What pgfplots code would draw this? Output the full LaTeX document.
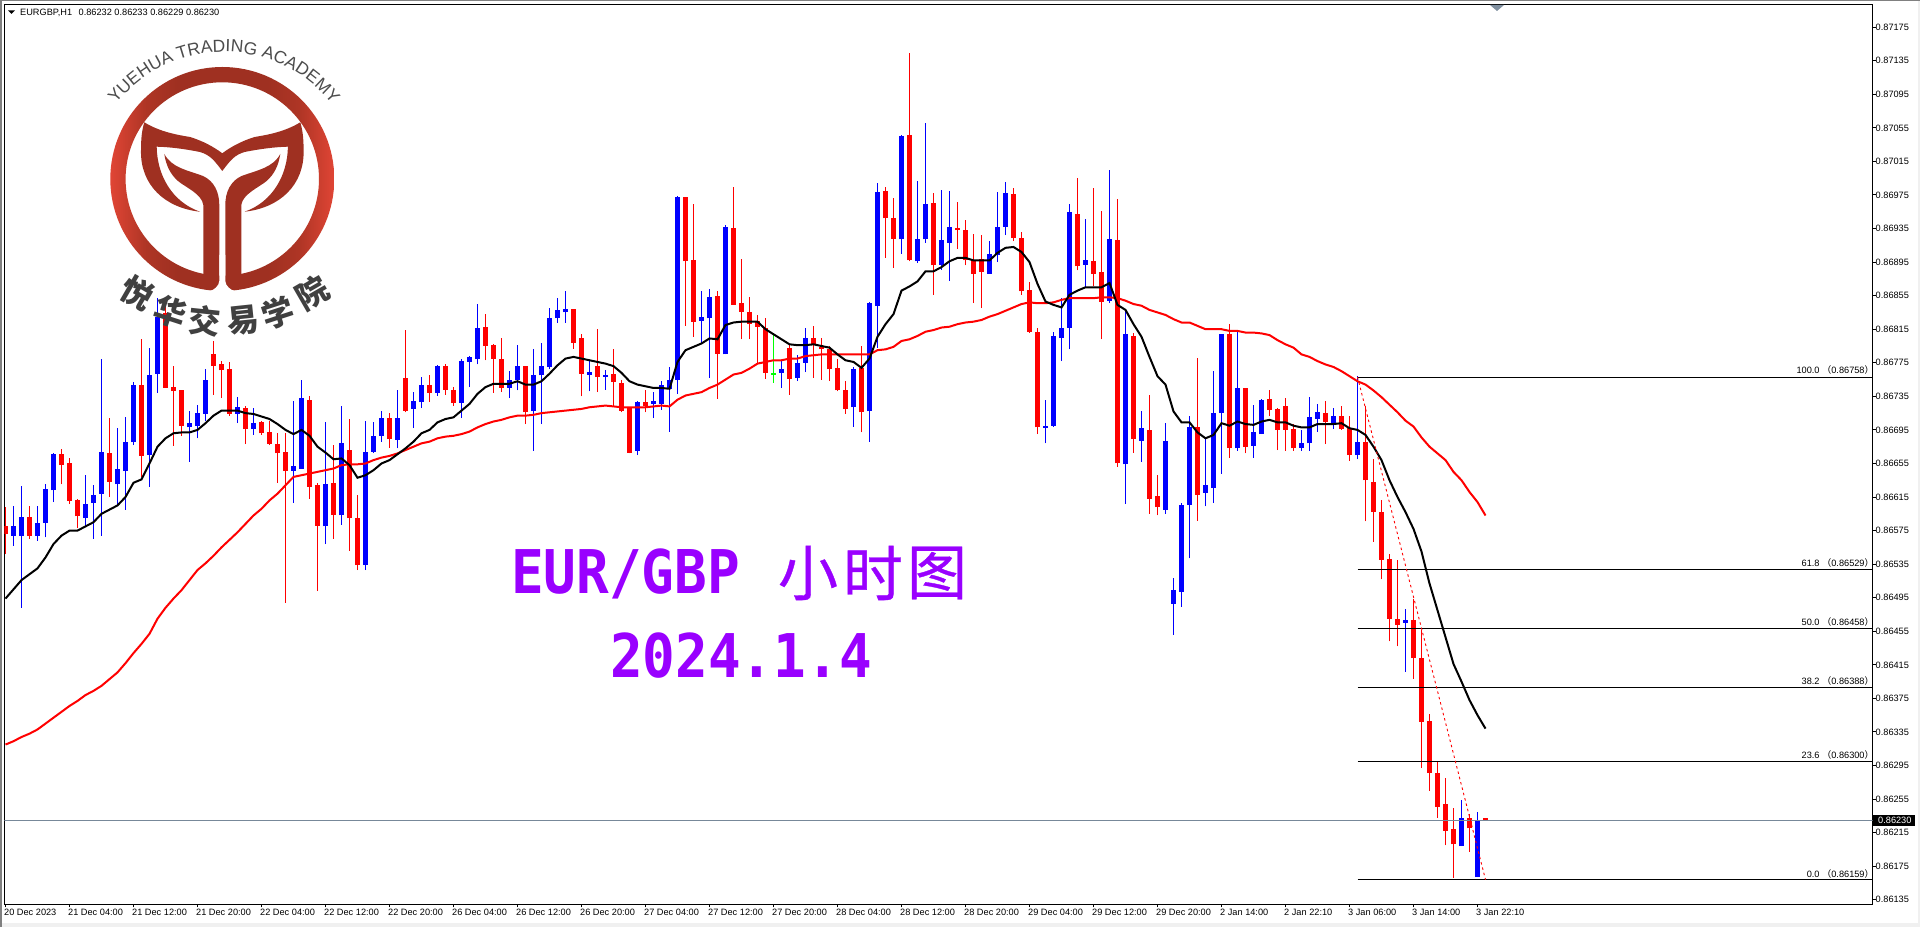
\documentclass[border=0pt]{standalone}
\usepackage{pgfplots}
\usepackage{pgfplotstable}
\pgfplotsset{compat=1.18}
\usepackage{fontspec}
\setmainfont{Liberation Sans}
\newfontfamily\cjk{Noto Sans CJK SC}
\newfontfamily\cjkt[FakeBold=0.6]{Noto Sans CJK SC}
\newfontfamily\titlefont{DejaVu Sans Mono}
\usetikzlibrary{decorations.text}
\definecolor{logoD}{HTML}{9F3021}
\definecolor{logoE}{HTML}{E04535}
\definecolor{logoM}{HTML}{AE3525}
\definecolor{purp}{HTML}{9900FF}
\pgfdeclarehorizontalshading{logoshade}{100bp}{color(0bp)=(logoE); color(25bp)=(logoE); color(33bp)=(logoM); color(40bp)=(logoD); color(60bp)=(logoD); color(67bp)=(logoM); color(75bp)=(logoE); color(100bp)=(logoE)}

\pgfplotstableread{
i h t b l
1 0.86604 0.86581 0.86569 0.86557
2 0.86628 0.86591 0.86569 0.86483
4 0.86604 0.86584 0.86569 0.86563
5 0.86630 0.86625 0.86584 0.86567
6 0.86668 0.86666 0.86623 0.86609
10 0.86641 0.86607 0.86590 0.86581
11 0.86629 0.86618 0.86608 0.86565
12 0.86779 0.86669 0.86619 0.86569
14 0.86697 0.86648 0.86630 0.86607
15 0.86710 0.86680 0.86646 0.86600
16 0.86752 0.86748 0.86680 0.86677
18 0.86793 0.86761 0.86665 0.86627
19 0.86852 0.86830 0.86762 0.86739
23 0.86717 0.86703 0.86698 0.86657
24 0.86725 0.86715 0.86700 0.86685
25 0.86768 0.86755 0.86714 0.86706
29 0.86734 0.86722 0.86714 0.86703
31 0.86721 0.86703 0.86696 0.86689
36 0.86730 0.86652 0.86646 0.86608
37 0.86755 0.86733 0.86649 0.86649
40 0.86705 0.86631 0.86580 0.86559
42 0.86724 0.86679 0.86593 0.86582
45 0.86706 0.86669 0.86534 0.86528
46 0.86704 0.86688 0.86669 0.86668
47 0.86718 0.86709 0.86688 0.86681
49 0.86743 0.86709 0.86683 0.86673
51 0.86740 0.86730 0.86720 0.86697
52 0.86758 0.86749 0.86728 0.86721
54 0.86772 0.86771 0.86739 0.86736
57 0.86779 0.86777 0.86727 0.86709
58 0.86783 0.86782 0.86776 0.86746
59 0.86845 0.86817 0.86779 0.86773
63 0.86765 0.86754 0.86745 0.86733
64 0.86796 0.86771 0.86754 0.86742
66 0.86791 0.86760 0.86717 0.86670
67 0.86798 0.86771 0.86760 0.86702
68 0.86840 0.86828 0.86770 0.86767
69 0.86852 0.86838 0.86828 0.86823
70 0.86860 0.86839 0.86835 0.86823
73 0.86777 0.86764 0.86761 0.86741
75 0.86766 0.86761 0.86758 0.86743
79 0.86729 0.86728 0.86670 0.86665
81 0.86740 0.86729 0.86726 0.86709
82 0.86753 0.86748 0.86726 0.86719
83 0.86770 0.86755 0.86744 0.86693
84 0.86974 0.86972 0.86755 0.86738
87 0.86860 0.86830 0.86825 0.86797
88 0.86863 0.86853 0.86828 0.86757
90 0.86939 0.86937 0.86785 0.86785
97 0.86778 0.86768 0.86763 0.86745
99 0.86784 0.86775 0.86757 0.86753
100 0.86816 0.86805 0.86775 0.86764
106 0.86770 0.86767 0.86722 0.86699
108 0.86848 0.86846 0.86717 0.86681
109 0.86989 0.86979 0.86843 0.86793
112 0.87047 0.87045 0.86922 0.86905
114 0.86992 0.86922 0.86896 0.86894
115 0.87061 0.86964 0.86922 0.86918
117 0.86981 0.86921 0.86892 0.86886
118 0.86980 0.86937 0.86918 0.86873
123 0.86920 0.86905 0.86881 0.86881
124 0.86978 0.86937 0.86903 0.86895
125 0.86991 0.86977 0.86937 0.86927
130 0.86731 0.86700 0.86697 0.86679
131 0.86812 0.86807 0.86700 0.86699
132 0.86852 0.86817 0.86805 0.86777
133 0.86964 0.86955 0.86817 0.86791
135 0.86946 0.86897 0.86892 0.86865
138 0.87005 0.86922 0.86849 0.86846
140 0.86837 0.86809 0.86654 0.86607
142 0.86717 0.86697 0.86682 0.86657
145 0.86703 0.86682 0.86600 0.86595
146 0.86518 0.86504 0.86488 0.86451
147 0.86608 0.86606 0.86502 0.86484
148 0.86711 0.86699 0.86606 0.86542
150 0.86686 0.86629 0.86620 0.86604
151 0.86765 0.86715 0.86626 0.86608
152 0.86809 0.86809 0.86715 0.86643
154 0.86813 0.86745 0.86673 0.86670
156 0.86725 0.86693 0.86676 0.86662
157 0.86732 0.86731 0.86690 0.86690
162 0.86695 0.86679 0.86674 0.86670
163 0.86734 0.86710 0.86679 0.86670
164 0.86726 0.86716 0.86708 0.86693
166 0.86721 0.86711 0.86703 0.86696
169 0.86759 0.86680 0.86665 0.86660
175 0.86481 0.86468 0.86465 0.86407
182 0.86254 0.86233 0.86199 0.86199
184 0.86240 0.86230 0.86162 0.86162
}\dataBlue

\pgfplotstableread{
i h t b l
0 0.86603 0.86580 0.86571 0.86547
3 0.86604 0.86591 0.86569 0.86565
7 0.86672 0.86666 0.86653 0.86630
8 0.86662 0.86655 0.86610 0.86607
9 0.86613 0.86612 0.86592 0.86578
13 0.86709 0.86668 0.86633 0.86615
17 0.86803 0.86749 0.86664 0.86639
20 0.86849 0.86834 0.86745 0.86745
21 0.86771 0.86746 0.86741 0.86676
22 0.86743 0.86743 0.86700 0.86688
26 0.86801 0.86785 0.86771 0.86737
27 0.86777 0.86774 0.86766 0.86733
28 0.86776 0.86768 0.86714 0.86712
30 0.86724 0.86721 0.86696 0.86678
32 0.86706 0.86704 0.86691 0.86689
33 0.86706 0.86693 0.86678 0.86677
34 0.86691 0.86678 0.86667 0.86632
35 0.86691 0.86669 0.86646 0.86489
38 0.86735 0.86731 0.86627 0.86613
39 0.86632 0.86629 0.86581 0.86503
41 0.86677 0.86632 0.86594 0.86565
43 0.86708 0.86671 0.86590 0.86551
44 0.86618 0.86590 0.86534 0.86528
48 0.86715 0.86709 0.86684 0.86674
50 0.86814 0.86757 0.86718 0.86716
53 0.86761 0.86748 0.86739 0.86728
55 0.86773 0.86771 0.86743 0.86737
56 0.86746 0.86742 0.86727 0.86724
60 0.86833 0.86818 0.86795 0.86778
61 0.86797 0.86796 0.86780 0.86739
62 0.86804 0.86779 0.86745 0.86740
65 0.86771 0.86771 0.86716 0.86702
71 0.86839 0.86839 0.86799 0.86792
72 0.86809 0.86805 0.86762 0.86735
74 0.86815 0.86771 0.86758 0.86740
76 0.86791 0.86762 0.86752 0.86723
77 0.86754 0.86751 0.86718 0.86716
78 0.86722 0.86721 0.86668 0.86667
80 0.86743 0.86728 0.86724 0.86716
85 0.86973 0.86973 0.86896 0.86819
86 0.86964 0.86898 0.86824 0.86806
89 0.86860 0.86854 0.86786 0.86732
91 0.86985 0.86936 0.86844 0.86844
92 0.86899 0.86846 0.86836 0.86803
93 0.86853 0.86835 0.86821 0.86803
94 0.86832 0.86825 0.86818 0.86774
95 0.86828 0.86817 0.86763 0.86756
98 0.86797 0.86793 0.86756 0.86737
101 0.86819 0.86804 0.86797 0.86757
102 0.86805 0.86794 0.86791 0.86755
103 0.86795 0.86791 0.86767 0.86753
104 0.86779 0.86769 0.86742 0.86741
105 0.86753 0.86742 0.86720 0.86714
107 0.86795 0.86769 0.86716 0.86692
110 0.86984 0.86980 0.86947 0.86900
111 0.86971 0.86947 0.86923 0.86888
113 0.87144 0.87046 0.86897 0.86896
116 0.86977 0.86965 0.86891 0.86856
119 0.86967 0.86936 0.86933 0.86911
120 0.86945 0.86933 0.86897 0.86891
121 0.86928 0.86897 0.86881 0.86846
122 0.86927 0.86899 0.86883 0.86840
126 0.86983 0.86976 0.86924 0.86920
127 0.86931 0.86924 0.86860 0.86856
128 0.86871 0.86862 0.86812 0.86811
129 0.86817 0.86812 0.86698 0.86690
134 0.86995 0.86952 0.86890 0.86885
136 0.86983 0.86896 0.86881 0.86866
137 0.86956 0.86883 0.86848 0.86803
139 0.86970 0.86921 0.86655 0.86651
141 0.86811 0.86807 0.86684 0.86668
143 0.86737 0.86695 0.86613 0.86595
144 0.86641 0.86616 0.86603 0.86593
149 0.86781 0.86698 0.86618 0.86587
153 0.86821 0.86809 0.86674 0.86662
155 0.86745 0.86745 0.86675 0.86667
158 0.86743 0.86732 0.86719 0.86711
159 0.86721 0.86720 0.86695 0.86671
160 0.86733 0.86723 0.86695 0.86670
161 0.86702 0.86696 0.86673 0.86670
165 0.86729 0.86715 0.86704 0.86678
167 0.86723 0.86712 0.86696 0.86695
168 0.86712 0.86697 0.86665 0.86658
170 0.86724 0.86681 0.86635 0.86586
171 0.86660 0.86633 0.86597 0.86562
172 0.86611 0.86597 0.86540 0.86517
173 0.86547 0.86541 0.86470 0.86443
174 0.86540 0.86470 0.86463 0.86437
176 0.86494 0.86469 0.86423 0.86398
177 0.86456 0.86423 0.86347 0.86292
178 0.86356 0.86348 0.86286 0.86265
179 0.86299 0.86286 0.86246 0.86233
180 0.86280 0.86249 0.86217 0.86200
181 0.86245 0.86219 0.86201 0.86161
183 0.86237 0.86232 0.86220 0.86192
185 0.86233 0.86232 0.86229 0.86229
}\dataRed

\pgfplotstableread{
i h t b l
96 0.86809 0.86763 0.86761 0.86751
}\dataGreen

\pgfplotstableread{
i k r
0 0.86494 0.86320
1 0.86505 0.86324
2 0.86516 0.86329
3 0.86523 0.86333
4 0.86530 0.86338
5 0.86543 0.86345
6 0.86559 0.86352
7 0.86569 0.86359
8 0.86575 0.86366
9 0.86575 0.86372
10 0.86580 0.86379
11 0.86585 0.86384
12 0.86595 0.86390
13 0.86600 0.86398
14 0.86605 0.86406
15 0.86615 0.86417
16 0.86632 0.86429
17 0.86636 0.86440
18 0.86655 0.86452
19 0.86675 0.86470
20 0.86685 0.86483
21 0.86691 0.86494
22 0.86692 0.86504
23 0.86692 0.86516
24 0.86695 0.86528
25 0.86703 0.86536
26 0.86712 0.86545
27 0.86718 0.86555
28 0.86718 0.86564
29 0.86718 0.86573
30 0.86715 0.86583
31 0.86714 0.86593
32 0.86711 0.86601
33 0.86708 0.86611
34 0.86702 0.86619
35 0.86695 0.86629
36 0.86690 0.86639
37 0.86695 0.86641
38 0.86688 0.86643
39 0.86675 0.86645
40 0.86668 0.86647
41 0.86660 0.86649
42 0.86661 0.86653
43 0.86653 0.86654
44 0.86638 0.86654
45 0.86641 0.86655
46 0.86647 0.86659
47 0.86655 0.86662
48 0.86659 0.86664
49 0.86666 0.86667
50 0.86673 0.86671
51 0.86681 0.86675
52 0.86691 0.86679
53 0.86695 0.86681
54 0.86704 0.86685
55 0.86708 0.86687
56 0.86710 0.86688
57 0.86718 0.86690
58 0.86726 0.86693
59 0.86738 0.86698
60 0.86746 0.86702
61 0.86750 0.86705
62 0.86750 0.86707
63 0.86750 0.86710
64 0.86753 0.86712
65 0.86749 0.86712
66 0.86749 0.86713
67 0.86753 0.86715
68 0.86762 0.86716
69 0.86772 0.86717
70 0.86780 0.86718
71 0.86782 0.86719
72 0.86780 0.86720
73 0.86778 0.86722
74 0.86776 0.86723
75 0.86774 0.86724
76 0.86771 0.86723
77 0.86763 0.86722
78 0.86753 0.86722
79 0.86749 0.86722
80 0.86747 0.86722
81 0.86745 0.86723
82 0.86745 0.86724
83 0.86744 0.86723
84 0.86776 0.86731
85 0.86790 0.86736
86 0.86794 0.86738
87 0.86798 0.86740
88 0.86804 0.86745
89 0.86803 0.86749
90 0.86820 0.86755
91 0.86823 0.86761
92 0.86824 0.86763
93 0.86824 0.86768
94 0.86824 0.86774
95 0.86815 0.86776
96 0.86809 0.86778
97 0.86803 0.86778
98 0.86797 0.86780
99 0.86796 0.86780
100 0.86796 0.86783
101 0.86797 0.86784
102 0.86795 0.86785
103 0.86793 0.86785
104 0.86785 0.86785
105 0.86778 0.86785
106 0.86776 0.86785
107 0.86769 0.86785
108 0.86780 0.86785
109 0.86806 0.86790
110 0.86821 0.86791
111 0.86833 0.86794
112 0.86861 0.86801
113 0.86866 0.86803
114 0.86872 0.86807
115 0.86884 0.86812
116 0.86884 0.86814
117 0.86889 0.86817
118 0.86896 0.86818
119 0.86900 0.86821
120 0.86900 0.86823
121 0.86897 0.86824
122 0.86897 0.86826
123 0.86897 0.86830
124 0.86906 0.86833
125 0.86912 0.86837
126 0.86913 0.86841
127 0.86907 0.86845
128 0.86895 0.86847
129 0.86869 0.86846
130 0.86848 0.86846
131 0.86844 0.86847
132 0.86841 0.86850
133 0.86856 0.86852
134 0.86861 0.86852
135 0.86865 0.86852
136 0.86865 0.86852
137 0.86865 0.86853
138 0.86870 0.86853
139 0.86844 0.86852
140 0.86838 0.86849
141 0.86821 0.86845
142 0.86806 0.86843
143 0.86782 0.86838
144 0.86759 0.86835
145 0.86749 0.86832
146 0.86717 0.86827
147 0.86704 0.86823
148 0.86704 0.86823
149 0.86692 0.86819
150 0.86685 0.86815
151 0.86689 0.86815
152 0.86703 0.86815
153 0.86700 0.86813
154 0.86705 0.86813
155 0.86702 0.86811
156 0.86701 0.86811
157 0.86705 0.86810
158 0.86707 0.86808
159 0.86704 0.86802
160 0.86704 0.86797
161 0.86700 0.86793
162 0.86698 0.86785
163 0.86698 0.86782
164 0.86702 0.86777
165 0.86702 0.86773
166 0.86702 0.86770
167 0.86703 0.86765
168 0.86697 0.86759
169 0.86695 0.86753
170 0.86689 0.86749
171 0.86675 0.86742
172 0.86659 0.86734
173 0.86635 0.86725
174 0.86615 0.86716
175 0.86597 0.86706
176 0.86577 0.86699
177 0.86550 0.86686
178 0.86512 0.86675
179 0.86480 0.86667
180 0.86448 0.86659
181 0.86416 0.86645
182 0.86395 0.86635
183 0.86373 0.86621
184 0.86355 0.86609
185 0.86339 0.86593
}\dataMA

\begin{document}
\begin{tikzpicture}[x=1pt,y=1pt]
% page background and window frame
\fill[white] (0,0) rectangle (1920,927);
\fill[black!6] (0,0) rectangle (1920,4);
\fill[black!6] (1918,0) rectangle (1920,927);
\fill[black!50] (0,925.5) rectangle (1920,927);
\fill[black!50] (0,0) rectangle (1.5,927);

\begin{axis}[
  at={(4.5pt,22.5pt)}, anchor=south west, scale only axis,
  width=1868pt, height=900pt,
  xmin=-0.125, xmax=233.375, ymin=0.861294, ymax=0.87202,
  axis line style={black,line width=1pt},
  tick align=outside, major tick length=3pt, tick style={black,line width=1pt},
  ytick pos=right, xtick pos=bottom,
  /pgf/number format/assume math mode=true,
  /pgf/number format/fixed,/pgf/number format/fixed zerofill,/pgf/number format/precision=5,
  xtick={0,8,...,184},
  xticklabels={20 Dec 2023,21 Dec 04:00,21 Dec 12:00,21 Dec 20:00,22 Dec 04:00,22 Dec 12:00,22 Dec 20:00,26 Dec 04:00,26 Dec 12:00,26 Dec 20:00,27 Dec 04:00,27 Dec 12:00,27 Dec 20:00,28 Dec 04:00,28 Dec 12:00,28 Dec 20:00,29 Dec 04:00,29 Dec 12:00,29 Dec 20:00,2 Jan 14:00,2 Jan 22:10,3 Jan 06:00,3 Jan 14:00,3 Jan 22:10},
  xticklabel style={font=\fontsize{9.2pt}{10pt}\selectfont,anchor=north west,inner sep=0pt,xshift=-1.5pt,yshift=-1pt},
  ytick={0.86135,0.86175,...,0.87176},
  scaled y ticks=false,
  yticklabel style={font=\fontsize{9.2pt}{10pt}\selectfont,anchor=west,inner sep=0pt,xshift=0pt},
  clip=true,
]
% wicks
\addplot[forget plot,draw=blue,line width=1pt,quiver={u=0,v=\thisrow{h}-\thisrow{l}}] table[x=i,y=l] {\dataBlue};
\addplot[forget plot,draw=red,line width=1pt,quiver={u=0,v=\thisrow{h}-\thisrow{l}}] table[x=i,y=l] {\dataRed};
\addplot[forget plot,draw=green,line width=1pt,quiver={u=0,v=\thisrow{h}-\thisrow{l}}] table[x=i,y=l] {\dataGreen};
% bodies
\addplot[forget plot,draw=blue,line width=5pt,quiver={u=0,v=\thisrow{t}-\thisrow{b}}] table[x=i,y=b] {\dataBlue};
\addplot[forget plot,draw=red,line width=5pt,quiver={u=0,v=\thisrow{t}-\thisrow{b}}] table[x=i,y=b] {\dataRed};
\addplot[forget plot,draw=green,line width=5pt,quiver={u=0,v=\thisrow{t}-\thisrow{b}}] table[x=i,y=b] {\dataGreen};
% moving averages
\addplot[forget plot,no marks,red,line width=2pt] table[x=i,y=r] {\dataMA};
\addplot[forget plot,no marks,black,line width=2pt] table[x=i,y=k] {\dataMA};
% current price
\addplot[forget plot,no marks,color={rgb,255:red,119;green,136;blue,153},line width=1pt] coordinates {(-0.125,0.86230)(233.375,0.86230)};
% Fibonacci retracement
\addplot[forget plot,no marks,black,line width=1pt] coordinates {(169,0.86758)(233.375,0.86758)};
\addplot[forget plot,no marks,black,line width=1pt] coordinates {(169,0.86529)(233.375,0.86529)};
\addplot[forget plot,no marks,black,line width=1pt] coordinates {(169,0.86458)(233.375,0.86458)};
\addplot[forget plot,no marks,black,line width=1pt] coordinates {(169,0.86388)(233.375,0.86388)};
\addplot[forget plot,no marks,black,line width=1pt] coordinates {(169,0.86300)(233.375,0.86300)};
\addplot[forget plot,no marks,black,line width=1pt] coordinates {(169,0.86159)(233.375,0.86159)};
\addplot[forget plot,no marks,red,line width=0.9pt,dash pattern=on 2.5pt off 3pt] coordinates {(169,0.86758)(185,0.86159)};
\end{axis}

% labels and decorations, in pixel coordinates (y downward)
\begin{scope}[shift={(0,927)},y=-1pt]
\def\fs{\fontsize{9.2pt}{10pt}\selectfont}
\foreach \yy/\lab/\vv in {376.6/100.0/0.86758,569.6/61.8/0.86529,628.6/50.0/0.86458,687.6/38.2/0.86388,761.6/23.6/0.86300,880.6/0.0/0.86159}
  \node[anchor=base east,inner sep=0pt] at (1874,\yy-3.5) {\fs\lab\ {\cjk（}\vv{\cjk）}};
\node[anchor=base west,inner sep=0pt] at (20,16) {\fs EURGBP,H1\hspace{6.5pt}0.86232 0.86233 0.86229 0.86230};
\fill[black] (8,10.5) -- (15,10.5) -- (11.5,14) -- cycle;
\fill[color={rgb,255:red,128;green,144;blue,160}] (1490,5) -- (1504,5) -- (1497,11) -- cycle;
\fill[black] (1873,815) rectangle (1915,826);
\node[anchor=west,inner sep=0pt,text=white] at (1878,820.8) {\fs 0.86230};

% title
\node[anchor=base west,inner sep=0pt,text=purp] at (511,594) {\titlefont\bfseries\fontsize{54.3pt}{60pt}\selectfont\scalebox{1}[1.11]{EUR/GBP}};
\node[anchor=base west,inner sep=0pt,text=purp] at (610,678) {\titlefont\bfseries\fontsize{54.3pt}{60pt}\selectfont\scalebox{1}[1.11]{2024.1.4}};
\node[anchor=center,inner sep=0pt,text=purp] at (808,573) {\cjkt\fontsize{60pt}{62pt}\selectfont 小};
\node[anchor=center,inner sep=0pt,text=purp] at (873,573) {\cjkt\fontsize{60pt}{62pt}\selectfont 时};
\node[anchor=center,inner sep=0pt,text=purp] at (937,573) {\cjkt\fontsize{60pt}{62pt}\selectfont 图};

% logo
\path[even odd rule,shading=logoshade] (222.3,179) circle[radius=112] (222.3,179) circle[radius=96.7];
\fill[logoD] (164.3,154) .. controls (172,168) and (187,170) .. (203,176) .. controls (214,181) and (219.3,192) .. (219.3,205) -- (219.3,285) -- (203.3,285) -- (203.3,205) .. controls (202,194) and (185,187) .. (178,181) .. controls (170,174) and (166,165) .. cycle;
\fill[logoD] (280.3,154) .. controls (272.6,168) and (257.6,170) .. (241.6,176) .. controls (230.6,181) and (225.3,192) .. (225.3,205) -- (225.3,285) -- (241.3,285) -- (241.3,205) .. controls (242.6,194) and (259.6,187) .. (266.6,181) .. controls (274.6,174) and (278.6,165) .. cycle;
\fill[logoD] (144.3,122.3) .. controls (160,132) and (178,135) .. (190,137) .. controls (203,141) and (214,147) .. (222.3,153.3)
  .. controls (230.6,147) and (241.6,141) .. (254.6,137) .. controls (266.6,135) and (284.6,132) .. (300.3,122.3)
  .. controls (302.6,130) and (303.6,138) .. (303.6,150) .. controls (304.6,185) and (279.6,208) .. (244.6,211.7)
  .. controls (272.6,202) and (287.6,175) .. (287.9,146.7) .. controls (274.6,147) and (259.6,149) .. (244.6,152) .. controls (234.6,155) and (230.6,160) .. (222.3,171)
  .. controls (214,160) and (210,155) .. (200,152) .. controls (185,149) and (170,147) .. (156.7,146.7)
  .. controls (157,175) and (172,202) .. (200,211.7) .. controls (165,208) and (140,185) .. (141,150) .. controls (141,138) and (142,130) .. cycle;
\fill[white] (219.3,255) -- (219.3,281) .. controls (219,286) and (214,290) .. (210,291) -- (210,296) -- (234.6,296) -- (234.6,291) .. controls (230.6,290) and (225.6,286) .. (225.3,281) -- (225.3,255) -- cycle;
\foreach \cx/\cy/\ang/\ch in {137/293/-30/悦,170/312/-18/华,205/321/-6/交,243/321/6/易,278/313/18/学,312/293/30/院}
  \node[rotate=\ang,inner sep=0pt,text=black!75] at (\cx,\cy) {\cjk\bfseries\fontsize{32pt}{34pt}\selectfont \ch};
\end{scope}
\path[decorate,decoration={text along path,text align=center,text={|\fontsize{17.5pt}{18pt}\selectfont\color{black!70}|YUEHUA TRADING ACADEMY}}]
  (224,737) ++(155:138) arc[start angle=155,end angle=25,radius=138];
\end{tikzpicture}
\end{document}
